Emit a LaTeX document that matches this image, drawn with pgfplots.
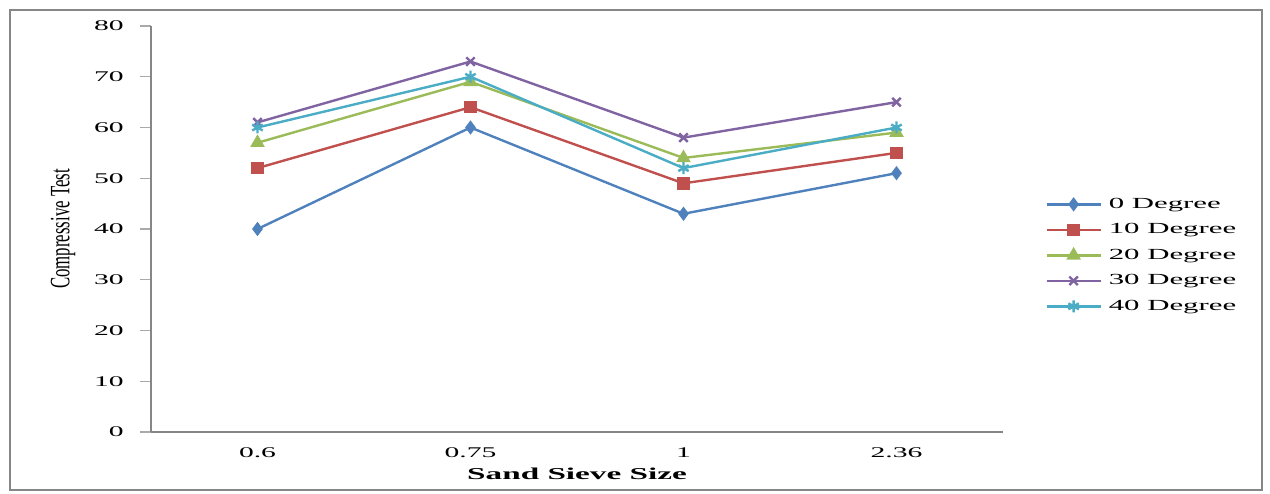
\documentclass[border=0pt]{standalone}
\usepackage{fontspec}
\setmainfont{Liberation Serif}[FakeStretch=2.0]
\newfontfamily\ylabfont{Liberation Serif}[FakeStretch=0.6]
\usepackage{pgfplots}
\pgfplotsset{compat=1.18}
\definecolor{sblue}{HTML}{4F81BD}
\definecolor{sred}{HTML}{C0504D}
\definecolor{sgreen}{HTML}{9BBB59}
\definecolor{spurple}{HTML}{8064A2}
\definecolor{scyan}{HTML}{4BACC6}
\definecolor{axgray}{HTML}{868686}
\begin{document}
\begin{tikzpicture}
\path[use as bounding box] (0,0) rectangle (635bp,247bp);
\draw[axgray, line width=0.8bp] (5bp,2bp) rectangle (631bp,242bp);
\begin{axis}[
  at={(75.5bp,31bp)}, anchor=south west,
  scale only axis, width=426bp, height=203bp,
  xmin=-0.5, xmax=3.5, ymin=0, ymax=80,
  ytick={0,10,...,80},
  xtick={0,1,2,3}, xticklabels={0.6,0.75,1,2.36},
  axis lines*=left,
  axis line style={axgray, line width=0.6bp},
  tick align=outside,
  major tick length=5.5bp,
  x tick style={draw=none},
  y tick style={axgray!70, line width=0.6bp},
  /pgf/number format/assume math mode=true,
  tick label style={font=\fontsize{7.4bp}{9bp}\selectfont, inner sep=0pt},
  yticklabel style={xshift=-8bp},
  xticklabel style={yshift=-2bp},
  xlabel={\bfseries Sand Sieve Size},
  xlabel style={at={(axis description cs:0.5,-0.1022)}, anchor=center, inner sep=0pt, font=\fontsize{8.3bp}{10bp}\selectfont},
  ylabel={\ylabfont Compressive Test},
  ylabel style={at={(axis description cs:-0.1033,0.5)}, anchor=center, inner sep=0pt, font=\fontsize{14bp}{16bp}\selectfont},
  every axis plot/.append style={line width=1.2bp},
  every mark/.append style={xscale=1.9, solid},
  legend cell align=left,
  legend style={draw=none, fill=none, at={(rel axis cs:1.0493,0.579)}, anchor=north west,
    inner sep=0pt, row sep=5.75bp, column sep=3.5bp,
    nodes={inner sep=0pt, text height=5.5bp, text depth=1.5bp},
    font=\fontsize{7.7bp}{9bp}\selectfont},
  legend image code/.code={\draw[mark repeat=2, mark phase=2] plot coordinates {(0bp,0bp)(13.5bp,0bp)(27bp,0bp)};},
]
\addplot[sblue, mark=diamond*, mark size=2.6bp] coordinates {(0,40) (1,60) (2,43) (3,51)};
\addlegendentry{0 Degree}
\addplot[sred, mark=square*, mark size=2.5bp] coordinates {(0,52) (1,64) (2,49) (3,55)};
\addlegendentry{10 Degree}
\addplot[sgreen, mark=triangle*, mark size=3bp] coordinates {(0,57) (1,69) (2,54) (3,59)};
\addlegendentry{20 Degree}
\addplot[spurple, mark=x, mark size=3bp] coordinates {(0,61) (1,73) (2,58) (3,65)};
\addlegendentry{30 Degree}
\addplot[scyan, mark=asterisk, mark size=3bp] coordinates {(0,60) (1,70) (2,52) (3,60)};
\addlegendentry{40 Degree}
\end{axis}
\end{tikzpicture}
\end{document}
